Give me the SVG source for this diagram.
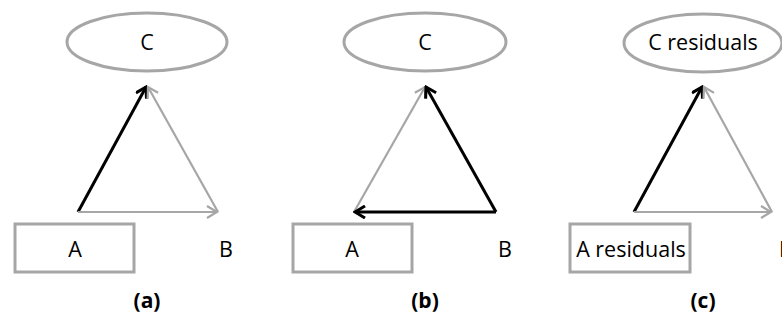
<svg xmlns="http://www.w3.org/2000/svg" width="782" height="320" viewBox="0 0 782 320">
<style>
.node{fill:#fff;stroke:#a6a6a6;stroke-width:3}
.t{font-family:"Open Sans","Liberation Sans",sans-serif;font-size:21.5px;fill:#000;text-anchor:middle}
.cap{font-family:"Open Sans","Liberation Sans",sans-serif;font-size:21px;font-weight:bold;fill:#000;text-anchor:middle}
.g{stroke:#a6a6a6;stroke-width:2.2;fill:none;marker-end:url(#ag)}
.k{stroke:#000;stroke-width:3;fill:none;marker-end:url(#ak)}
</style>
<defs>
<marker id="ag" markerUnits="userSpaceOnUse" viewBox="0 0 14 14" refX="12" refY="7" markerWidth="14" markerHeight="14" orient="auto">
<path d="M2,1 L12,7 L2,13" fill="none" stroke="#a6a6a6" stroke-width="2.2"/>
</marker>
<marker id="ak" markerUnits="userSpaceOnUse" viewBox="0 0 14 14" refX="12" refY="7" markerWidth="14" markerHeight="14" orient="auto">
<path d="M2,1 L12,7 L2,13" fill="none" stroke="#000" stroke-width="3"/>
</marker>
</defs>
<g id="connectors">
<line class="k" x1="78" y1="212" x2="146" y2="87"/>
<line class="g" x1="78" y1="212" x2="217" y2="212"/>
<line class="g" x1="218" y1="212" x2="148" y2="87"/>
<line class="g" x1="354" y1="212" x2="425" y2="87"/>
<line class="k" x1="496" y1="212" x2="426" y2="87"/>
<line class="k" x1="496" y1="212" x2="355" y2="212"/>
<line class="k" x1="634" y1="212" x2="702" y2="87"/>
<line class="g" x1="634" y1="212" x2="771" y2="212"/>
<line class="g" x1="772" y1="212" x2="704" y2="87"/>
</g>
<g id="a-C"><ellipse class="node" cx="147" cy="42" rx="80" ry="29"/><text class="t" x="147" y="50">C</text></g>
<g id="a-A"><rect class="node" x="15" y="224" width="119" height="48"/><text class="t" x="75" y="257">A</text></g>
<g id="a-B"><text class="t" x="226" y="257">B</text></g>
<g id="b-C"><ellipse class="node" cx="425" cy="42" rx="81" ry="29"/><text class="t" x="425" y="50">C</text></g>
<g id="b-A"><rect class="node" x="293" y="224" width="119" height="48"/><text class="t" x="352" y="257">A</text></g>
<g id="b-B"><text class="t" x="505" y="257">B</text></g>
<g id="c-C"><ellipse class="node" cx="703" cy="43" rx="79" ry="29"/><text class="t" x="703" y="50">C residuals</text></g>
<g id="c-A"><rect class="node" x="570" y="224" width="120" height="48"/><text class="t" x="631" y="257">A residuals</text></g>
<g id="c-B"><text class="t" x="786" y="257">B</text></g>
<text class="cap" x="147" y="308">(a)</text>
<text class="cap" x="425" y="308">(b)</text>
<text class="cap" x="703" y="308">(c)</text>
</svg>
